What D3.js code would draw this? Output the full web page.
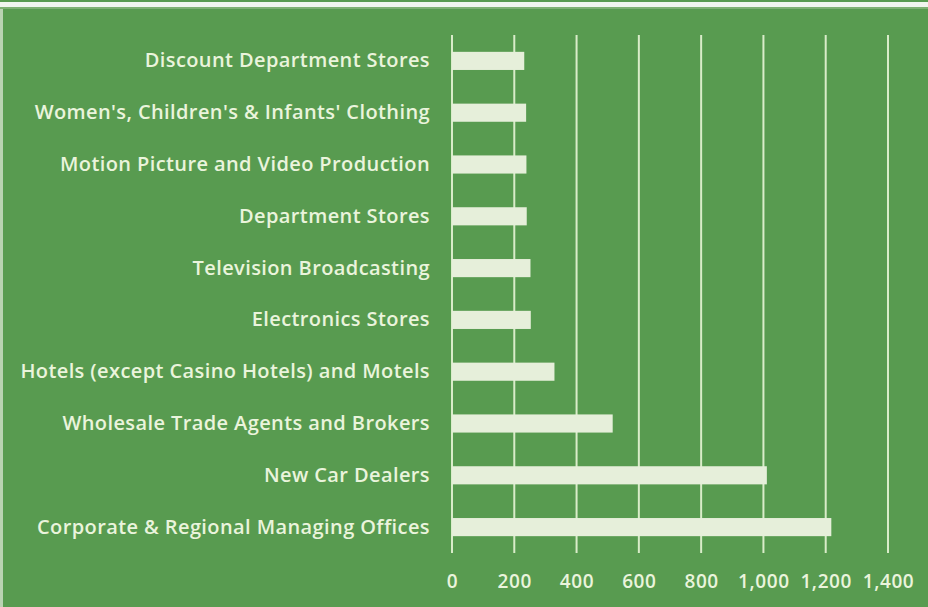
<!DOCTYPE html>
<html><head><meta charset="utf-8">
<script src="https://cdn.jsdelivr.net/npm/d3@7"></script>
<style>body{margin:0;background:#589b50;} svg{display:block;}</style>
</head><body>
<svg id="chart" width="928" height="607"></svg>
<script>
const categories = [
  "Discount Department Stores",
  "Women's, Children's & Infants' Clothing",
  "Motion Picture and Video Production",
  "Department Stores",
  "Television Broadcasting",
  "Electronics Stores",
  "Hotels (except Casino Hotels) and Motels",
  "Wholesale Trade Agents and Brokers",
  "New Car Dealers",
  "Corporate & Regional Managing Offices"
];
const values = [232, 238, 239, 240, 252, 253, 329, 516, 1011, 1218];
const xTicks = [0, 200, 400, 600, 800, 1000, 1200, 1400];

const svg = d3.select("#chart");
const W = 928, H = 607;
const bg = "#589b50", light = "#e6efda", grid = "#d9ecc9", txt = "#eaf4dc";

svg.append("rect").attr("width", W).attr("height", H).attr("fill", bg);
svg.append("rect").attr("x", 0).attr("y", 2).attr("width", W).attr("height", 5).attr("fill", "#f1f6ef");
svg.append("rect").attr("x", 0).attr("y", 7).attr("width", W).attr("height", 2).attr("fill", "#7fb274");
svg.append("rect").attr("x", 0).attr("y", 9).attr("width", 3).attr("height", H - 9).attr("fill", "#b9d3b2");

const x = d3.scaleLinear().domain([0, 1400]).range([452, 888]);
const y = d3.scaleBand().domain(categories).range([35, 553]).paddingInner(0.65).paddingOuter(0.325);

// gridlines
svg.append("g").selectAll("line").data(xTicks).join("line")
  .attr("x1", d => x(d)).attr("x2", d => x(d))
  .attr("y1", 35).attr("y2", 553)
  .attr("stroke", grid).attr("stroke-width", 2);

// bars
svg.append("g").selectAll("rect").data(categories).join("rect")
  .attr("x", x(0))
  .attr("y", d => y(d))
  .attr("width", (d, i) => x(values[i]) - x(0))
  .attr("height", y.bandwidth())
  .attr("fill", light);

// category labels
const yAxis = d3.axisLeft(y).tickSize(0).tickPadding(0);
const gy = svg.append("g").attr("transform", "translate(430,0)").call(yAxis);
gy.select(".domain").remove();
gy.selectAll("text")
  .attr("fill", txt)
  .style("font-family", "'Open Sans', Lato, sans-serif")
  .style("font-weight", "600")
  .style("font-size", "20px")
  .style("letter-spacing", "0.4px");

// x axis labels
const xAxis = d3.axisBottom(x).tickValues(xTicks).tickSize(0).tickPadding(0)
  .tickFormat(d3.format(","));
const gx = svg.append("g").attr("transform", "translate(0,574)").call(xAxis);
gx.select(".domain").remove();
gx.selectAll("text")
  .attr("fill", txt)
  .style("font-family", "'Open Sans', Lato, sans-serif")
  .style("font-weight", "600")
  .style("font-size", "19px")
  .style("letter-spacing", "0.6px");
</script>
</body></html>
